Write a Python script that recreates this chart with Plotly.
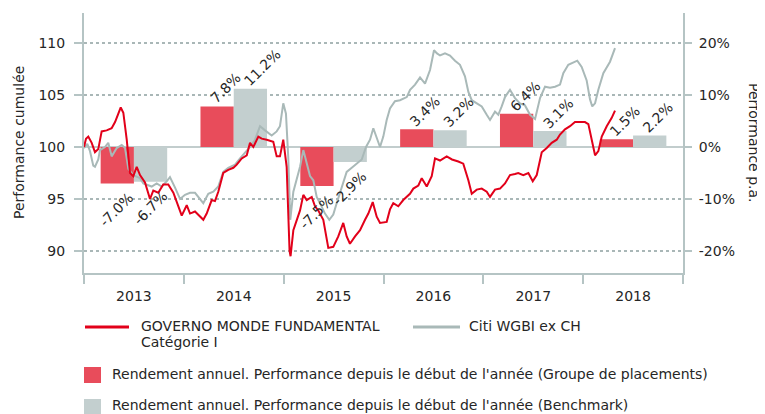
import plotly.graph_objects as go

# ---------------- data ----------------
years = [2013, 2014, 2015, 2016, 2017, 2018]
year_labels = ["2013", "2014", "2015", "2016", "2017", "2018"]
fund_annual = [-7.0, 7.8, -7.5, 3.4, 6.4, 1.5]
bench_annual = [-6.7, 11.2, -2.9, 3.2, 3.1, 2.2]

fund_t = [2013.000, 2013.020, 2013.043, 2013.077, 2013.110, 2013.143, 2013.177, 2013.227, 2013.277, 2013.311,
          2013.344, 2013.368, 2013.394, 2013.428, 2013.461, 2013.494, 2013.528, 2013.561, 2013.611, 2013.661,
          2013.694, 2013.744, 2013.794, 2013.844, 2013.895, 2013.945, 2013.979, 2014.029, 2014.062, 2014.112,
          2014.145, 2014.195, 2014.229, 2014.279, 2014.312, 2014.345, 2014.395, 2014.445, 2014.496, 2014.530,
          2014.580, 2014.630, 2014.663, 2014.696, 2014.746, 2014.780, 2014.830, 2014.896, 2014.930, 2014.963,
          2014.996, 2015.030, 2015.059, 2015.069, 2015.097, 2015.124, 2015.164, 2015.197, 2015.231, 2015.281,
          2015.314, 2015.347, 2015.397, 2015.447, 2015.497, 2015.547, 2015.597, 2015.631, 2015.664, 2015.715,
          2015.765, 2015.815, 2015.848, 2015.892, 2015.932, 2015.965, 2016.032, 2016.065, 2016.098, 2016.148,
          2016.198, 2016.265, 2016.299, 2016.349, 2016.383, 2016.433, 2016.483, 2016.516, 2016.566, 2016.633,
          2016.686, 2016.749, 2016.799, 2016.850, 2016.884, 2016.934, 2016.984, 2017.034, 2017.067, 2017.117,
          2017.167, 2017.217, 2017.267, 2017.317, 2017.350, 2017.400, 2017.451, 2017.495, 2017.535, 2017.585,
          2017.635, 2017.685, 2017.735, 2017.768, 2017.818, 2017.868, 2017.918, 2017.968, 2018.018, 2018.052,
          2018.086, 2018.119, 2018.152, 2018.186, 2018.236, 2018.286, 2018.319]
fund_cum = [100.0, 100.8, 101.0, 100.4, 99.5, 99.8, 101.5, 101.6, 101.8, 102.4,
            103.2, 103.8, 103.3, 100.7, 97.5, 97.2, 98.1, 97.3, 96.6, 95.0,
            95.8, 95.6, 96.4, 96.4, 95.6, 94.3, 93.4, 94.4, 93.6, 93.8,
            93.5, 93.0, 93.6, 94.9, 94.8, 95.7, 97.5, 97.8, 98.0, 98.3,
            98.9, 99.2, 100.4, 100.0, 101.0, 100.8, 100.7, 100.5, 99.1, 99.1,
            100.7, 98.1, 90.0, 89.5, 92.0, 92.8, 93.9, 95.4, 94.9, 95.2,
            94.3, 93.9, 93.0, 90.3, 90.4, 91.4, 92.7, 91.4, 90.7, 91.4,
            92.0, 93.0, 93.6, 94.7, 93.3, 92.7, 92.8, 94.0, 94.6, 94.3,
            94.9, 95.5, 96.0, 96.3, 97.0, 96.2, 97.2, 98.9, 98.7, 99.1,
            98.8, 98.6, 98.4, 96.8, 95.5, 95.9, 96.0, 95.7, 95.2, 95.9,
            96.0, 96.5, 97.3, 97.4, 97.5, 97.3, 97.5, 96.7, 97.3, 99.5,
            99.9, 100.4, 100.7, 101.2, 101.7, 102.0, 102.4, 102.4, 102.4, 102.2,
            100.5, 99.2, 99.6, 101.0, 102.0, 102.8, 103.5]

bench_t = [2013.000, 2013.033, 2013.060, 2013.093, 2013.110, 2013.143, 2013.160, 2013.210, 2013.243, 2013.277,
           2013.328, 2013.378, 2013.411, 2013.444, 2013.494, 2013.561, 2013.594, 2013.678, 2013.728, 2013.778,
           2013.828, 2013.861, 2013.912, 2013.962, 2014.012, 2014.062, 2014.112, 2014.162, 2014.195, 2014.245,
           2014.295, 2014.345, 2014.395, 2014.445, 2014.513, 2014.563, 2014.613, 2014.663, 2014.713, 2014.763,
           2014.813, 2014.880, 2014.930, 2014.963, 2014.996, 2015.023, 2015.046, 2015.066, 2015.097, 2015.131,
           2015.164, 2015.197, 2015.231, 2015.264, 2015.297, 2015.331, 2015.364, 2015.414, 2015.457, 2015.497,
           2015.531, 2015.581, 2015.631, 2015.682, 2015.732, 2015.782, 2015.825, 2015.865, 2015.898, 2015.932,
           2015.965, 2015.998, 2016.032, 2016.065, 2016.115, 2016.165, 2016.233, 2016.266, 2016.316, 2016.366,
           2016.416, 2016.466, 2016.506, 2016.536, 2016.566, 2016.616, 2016.666, 2016.716, 2016.766, 2016.816,
           2016.850, 2016.884, 2016.934, 2016.984, 2017.034, 2017.067, 2017.117, 2017.150, 2017.184, 2017.217,
           2017.267, 2017.317, 2017.367, 2017.417, 2017.468, 2017.518, 2017.568, 2017.618, 2017.668, 2017.718,
           2017.768, 2017.801, 2017.851, 2017.901, 2017.941, 2017.985, 2018.035, 2018.068, 2018.091, 2018.119,
           2018.152, 2018.202, 2018.269, 2018.319]
bench_cum = [99.9, 100.3, 99.6, 98.2, 98.1, 98.8, 99.7, 100.0, 100.4, 99.1,
             99.9, 100.2, 99.9, 97.9, 97.3, 97.0, 96.5, 96.2, 96.5, 96.2,
             96.7, 97.1, 96.1, 95.0, 95.4, 95.6, 95.6, 95.0, 94.6, 95.5,
             95.7, 96.2, 97.6, 98.0, 98.3, 98.9, 99.4, 100.0, 100.7, 102.0,
             101.6, 101.1, 101.5, 102.0, 104.2, 103.2, 99.0, 93.0, 95.7, 96.8,
             98.1, 99.7, 98.4, 97.2, 96.8, 95.2, 94.6, 93.6, 93.0, 93.5,
             94.6, 96.2, 97.6, 98.0, 98.4, 98.8, 100.0, 100.7, 101.8, 100.8,
             100.0, 101.0, 102.6, 103.7, 104.4, 104.5, 104.8, 105.5, 106.0, 106.7,
             106.1, 107.4, 109.3, 109.0, 108.8, 109.0, 108.8, 108.3, 107.9, 106.8,
             105.3, 104.5, 104.2, 103.9, 103.1, 102.6, 103.4, 103.1, 103.9, 104.8,
             105.5, 104.7, 104.2, 104.0, 103.1, 102.7, 104.7, 105.8, 105.7, 105.8,
             106.0, 107.1, 107.9, 108.1, 108.3, 107.7, 106.4, 104.6, 103.9, 104.2,
             105.5, 107.1, 108.2, 109.5]

cum_ticks = [90, 95, 100, 105, 110]
pct_ticks = [-20, -10, 0, 10, 20]
pct_ticktext = ["-20%", "-10%", "0%", "10%", "20%"]

name_fund = "GOVERNO MONDE FUNDAMENTAL"
name_fund2 = "Catégorie I"
name_bench = "Citi WGBI ex CH"
name_bar_fund = "Rendement annuel. Performance depuis le début de l'année (Groupe de placements)"
name_bar_bench = "Rendement annuel. Performance depuis le début de l'année (Benchmark)"

# ---------------- style ----------------
RED_LINE = "#e2001a"
RED_BAR = "#e84c5b"
GREY_LINE = "#a9b9b8"
GREY_BAR = "#c3cfcf"
AXIS = "#b5c4c4"
GRID = "#a9b7b7"
ZERO = "#c2cdcd"
TEXT = "#262626"
FONT = "DejaVu Sans"

# the page body has an 8px margin; the figure is sized so it ends at the window edge
PAGE = 8
W, H = 765 - PAGE, 414 - PAGE
ML, MR, MT, MB = 84 - PAGE, 82, 13 - PAGE, 141
PW, PH = W - ML - MR, H - MT - MB


def px(x):
    """window x pixel -> paper coordinate"""
    return (x - PAGE - ML) / PW


def py(y):
    """window y pixel -> paper coordinate"""
    return (H - MB - (y - PAGE)) / PH


fig = go.Figure()

bar_w = 1 / 3
fund_x = [y + 1 / 3 for y in years]
bench_x = [y + 2 / 3 for y in years]

fig.add_bar(x=fund_x, y=fund_annual, width=bar_w, marker=dict(color=RED_BAR, line=dict(width=0)),
            xaxis="x", yaxis="y", showlegend=False, hoverinfo="skip")
fig.add_bar(x=bench_x, y=bench_annual, width=bar_w, marker=dict(color=GREY_BAR, line=dict(width=0)),
            xaxis="x", yaxis="y", showlegend=False, hoverinfo="skip")
fig.add_scatter(x=bench_t, y=bench_cum, mode="lines", line=dict(color=GREY_LINE, width=2),
                xaxis="x", yaxis="y2", showlegend=False)
fig.add_scatter(x=fund_t, y=fund_cum, mode="lines", line=dict(color=RED_LINE, width=2),
                xaxis="x", yaxis="y2", showlegend=False)

# cumulative axis range (left) and matching percent range (right): 10% == 5 points
cum_lo, cum_hi = 87.885, 112.885
pct_lo, pct_hi = (cum_lo - 100) * 2, (cum_hi - 100) * 2

annotations = []
# bar value labels
for xs, vals in ((fund_x, fund_annual), (bench_x, bench_annual)):
    for xc, v in zip(xs, vals):
        txt = f"{v:.1f}%"
        if v >= 0:
            annotations.append(dict(x=xc - bar_w / 2, y=v, xref="x", yref="y", text=txt, showarrow=False,
                                    textangle=-45, xanchor="left", yanchor="bottom", xshift=4, yshift=-3,
                                    font=dict(family=FONT, size=14, color=TEXT)))
        else:
            annotations.append(dict(x=xc + bar_w / 2, y=v, xref="x", yref="y", text=txt, showarrow=False,
                                    textangle=-45, xanchor="right", yanchor="top", xshift=6, yshift=-3,
                                    font=dict(family=FONT, size=14, color=TEXT)))

# axis titles
annotations.append(dict(x=px(19), y=0.5, xref="paper", yref="paper", text="Performance cumulée",
                        textangle=-90, showarrow=False, xanchor="center", yanchor="middle",
                        font=dict(family=FONT, size=14, color=TEXT)))
annotations.append(dict(x=px(754), y=0.5, xref="paper", yref="paper", text="Performance p.a.",
                        textangle=90, showarrow=False, xanchor="center", yanchor="middle",
                        font=dict(family=FONT, size=14, color=TEXT)))

# custom legend
leg_font = dict(family=FONT, size=14, color=TEXT)
shapes = [
    dict(type="line", xref="paper", yref="paper", x0=px(85), x1=px(129), y0=py(327), y1=py(327),
         line=dict(color=RED_LINE, width=3)),
    dict(type="line", xref="paper", yref="paper", x0=px(413), x1=px(460), y0=py(327), y1=py(327),
         line=dict(color=GREY_LINE, width=3)),
    dict(type="rect", xref="paper", yref="paper", x0=px(84), x1=px(101), y0=py(383), y1=py(367),
         line=dict(width=0), fillcolor=RED_BAR),
    dict(type="rect", xref="paper", yref="paper", x0=px(84), x1=px(101), y0=py(414), y1=py(399),
         line=dict(width=0), fillcolor=GREY_BAR),
]
for text, x, y in ((name_fund, 139, 326), (name_fund2, 139, 342), (name_bench, 467, 326),
                   (name_bar_fund, 110, 374), (name_bar_bench, 110, 405)):
    annotations.append(dict(x=px(x), y=py(y), xref="paper", yref="paper", text=text, showarrow=False,
                            xanchor="left", yanchor="middle", font=leg_font))

fig.update_layout(
    width=W, height=H,
    margin=dict(l=ML, r=MR, t=MT, b=MB),
    paper_bgcolor="white", plot_bgcolor="white",
    barmode="overlay",
    showlegend=False,
    font=dict(family=FONT, size=14, color=TEXT),
    xaxis=dict(range=[2013, 2019], tickvals=[y + 0.5 for y in years], ticktext=year_labels,
               ticks="outside", ticklen=9, tickcolor="rgba(0,0,0,0)",
               showline=True, linecolor=AXIS, linewidth=2, showgrid=False, zeroline=False,
               minor=dict(tick0=2013, dtick=1, ticks="outside", ticklen=9, tickwidth=2, tickcolor=AXIS,
                          showgrid=False),
               tickfont=dict(family=FONT, size=14, color=TEXT), fixedrange=True),
    yaxis=dict(side="right", range=[pct_lo, pct_hi], tickvals=pct_ticks, ticktext=pct_ticktext,
               ticks="outside", ticklen=7, tickwidth=2, tickcolor=AXIS,
               showline=True, linecolor=AXIS, linewidth=2,
               showgrid=True, gridcolor=GRID, griddash="dot", gridwidth=2,
               zeroline=True, zerolinecolor=ZERO, zerolinewidth=2,
               ticklabelstandoff=4,
               tickfont=dict(family=FONT, size=14, color=TEXT)),
    yaxis2=dict(overlaying="y", side="left", anchor="x", range=[cum_lo, cum_hi], tickvals=cum_ticks,
                ticks="outside", ticklen=8, tickwidth=2, tickcolor=AXIS,
                showline=True, linecolor=AXIS, linewidth=2, showgrid=False, zeroline=False,
                ticklabelstandoff=6,
                tickfont=dict(family=FONT, size=14, color=TEXT)),
    annotations=annotations,
    shapes=shapes,
)

fig.write_html("out.html")
